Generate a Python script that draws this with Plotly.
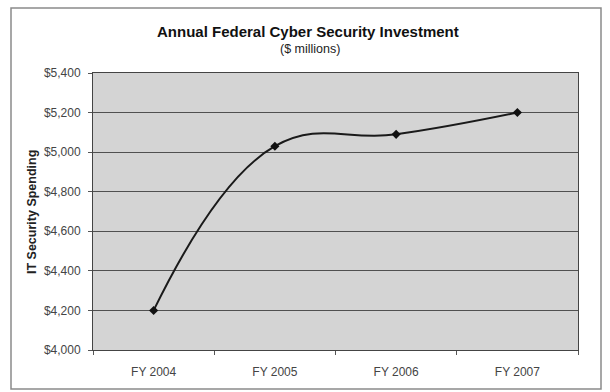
import plotly.graph_objects as go

categories = ["FY 2004", "FY 2005", "FY 2006", "FY 2007"]
spending = [4200, 5030, 5090, 5200]
y_ticks = [4000, 4200, 4400, 4600, 4800, 5000, 5200, 5400]
y_tick_labels = ["$4,000", "$4,200", "$4,400", "$4,600", "$4,800", "$5,000", "$5,200", "$5,400"]

FONT = "Liberation Sans, Arial, sans-serif"

fig = go.Figure()
fig.add_trace(go.Scatter(
    x=categories, y=spending, mode="lines+markers",
    line=dict(color="#1a1a1a", width=2, shape="spline", smoothing=1.2),
    marker=dict(symbol="diamond", size=7, color="#111111"),
    showlegend=False, hoverinfo="x+y",
))

W, H = 610, 392
L, R, T, B = 93, 32, 73, 42
pw, ph = W - L - R, H - T - B

def px(x):
    return (x - L) / pw

def py(y):
    return (H - B - y) / ph

fig.update_layout(
    width=W, height=H,
    margin=dict(l=L, r=R, t=T, b=B),
    paper_bgcolor="white",
    plot_bgcolor="#d4d4d4",
    font=dict(family=FONT, size=12, color="#333333"),
    xaxis=dict(
        type="category", range=[-0.5, 3.5],
        tickson="boundaries", ticks="outside", ticklen=4, tickcolor="#555555",
        showgrid=False, showline=True, linecolor="#444444", linewidth=1, mirror=True,
        tickfont=dict(family=FONT, size=12, color="#444444"),
        ticklabelstandoff=11,
        zeroline=False,
    ),
    yaxis=dict(
        range=[4000, 5400], tickvals=y_ticks, ticktext=y_tick_labels,
        ticks="outside", ticklen=4, tickcolor="#555555",
        showgrid=True, gridcolor="#505050", gridwidth=1,
        showline=True, linecolor="#444444", linewidth=1, mirror=True,
        tickfont=dict(family=FONT, size=12, color="#444444"),
        ticklabelstandoff=5,
        zeroline=False,
    ),
    annotations=[
        dict(text="<b>Annual Federal Cyber Security Investment</b>", xref="paper", yref="paper",
             x=px(308), y=py(32), xanchor="center", yanchor="middle", showarrow=False,
             font=dict(family=FONT, size=15, color="#111111")),
        dict(text="($ millions)", xref="paper", yref="paper",
             x=px(310), y=py(49), xanchor="center", yanchor="middle", showarrow=False,
             font=dict(family=FONT, size=12.5, color="#222222")),
        dict(text="<b>IT Security Spending</b>", xref="paper", yref="paper",
             x=px(32), y=py(212), xanchor="center", yanchor="middle", showarrow=False,
             textangle=-90, font=dict(family=FONT, size=12.5, color="#222222")),
    ],
    shapes=[
        dict(type="rect", xref="paper", yref="paper",
             x0=px(11), x1=px(601), y0=py(389), y1=py(8),
             line=dict(color="#8a8a8a", width=1.5), layer="below"),
    ],
)

fig.write_html("out.html", config={"displayModeBar": False},
               post_script="document.body.style.margin='0px';")
